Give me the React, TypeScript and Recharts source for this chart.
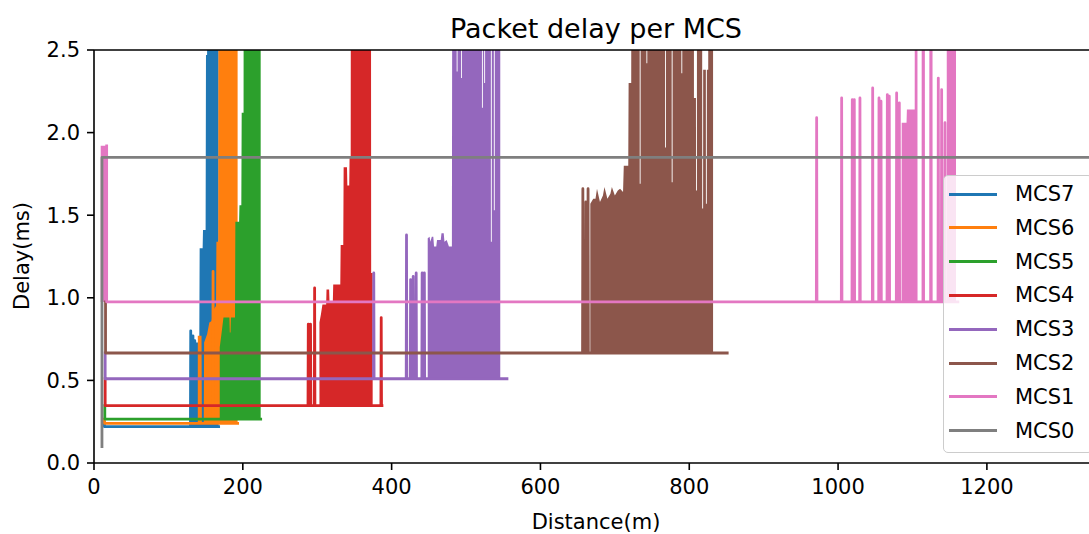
import React from 'react';
import { ComposedChart, Line, Area, XAxis, YAxis, ReferenceLine } from 'recharts';

// ---- series meta ----
const SERIES_NAMES = ['MCS7', 'MCS6', 'MCS5', 'MCS4', 'MCS3', 'MCS2', 'MCS1', 'MCS0'];
const SERIES_COLORS = ['#1f77b4', '#ff7f0e', '#2ca02c', '#d62728', '#9467bd', '#8c564b', '#e377c2', '#7f7f7f'];
// steady-state delay (ms) each MCS settles on
const BASE_DELAY = [0.22, 0.24, 0.266, 0.347, 0.51, 0.666, 0.975, 1.85];
// first sample of each trace (distance m, delay ms)
const START_DIST = [14, 14, 14.5, 15, 15, 15.5, 17, 10.7];
const START_DELAY = [0.245, 0.266, 0.347, 0.51, 0.666, 0.975, 1.92, 0.1];
// last distance of each trace
const END_DIST = [167.5, 193, 224, 387, 555, 851, 1161, 1345];

// ---- isolated delay spikes (distance m / peak ms) ----
const mcs7SpikeDist = [130, 133, 135.5];
const mcs7SpikePeak = [0.8, 0.77, 0.74];
const mcs6SpikeDist = [160];
const mcs6SpikePeak = [1.16];
const mcs5SpikeDist: number[] = [];
const mcs5SpikePeak: number[] = [];
const mcs4SpikeDist = [288, 291, 296.5, 386];
const mcs4SpikePeak = [0.84, 0.84, 1.06, 0.88];
const mcs3SpikeDist = [376, 420, 425.5, 429, 433, 441, 444];
const mcs3SpikePeak = [1.15, 1.38, 1.11, 1.13, 1.15, 1.15, 1.15];
const mcs2SpikeDist = [657, 661, 664];
const mcs2SpikePeak = [1.66, 1.58, 1.66];
const mcs1SpikeDist = [971.2, 1004.8, 1019.1, 1021.8, 1029.4, 1046.5, 1055, 1057.7, 1066.2, 1068.8, 1078.7, 1082.3, 1114.5, 1124.8, 1134.7, 1139.2, 1143.7];
const mcs1SpikePeak = [2.09, 2.21, 2.2, 2.2, 2.21, 2.27, 2.21, 2.19, 2.23, 2.22, 2.24, 2.18, 5, 5, 2.33, 2.26, 2.06];
const mcs0SpikeDist: number[] = [];
const mcs0SpikePeak: number[] = [];

// ---- dense oscillation regions: upper envelope (distance m / delay ms) ----
const mcs7BandDist = [129, 131.5, 132, 141.5, 142, 146, 146.5, 150, 150.5, 152, 152.5, 167.5];
const mcs7BandTop = [0.79, 0.79, 0.73, 0.73, 1.3, 1.3, 1.41, 1.41, 2.47, 2.47, 5, 5];
const mcs6BandDist = [139.5, 144.5, 145, 147.5, 148, 152, 155, 158, 161, 164, 164.5, 167, 167.5, 193];
const mcs6BandTop = [0.77, 0.77, 0.24, 0.24, 0.73, 0.78, 0.85, 0.86, 0.93, 0.95, 1.34, 1.34, 5, 5];
const mcs5BandDist = [169, 171, 174, 182, 182.5, 183.5, 184, 189.5, 190, 195, 195.5, 198, 198.5, 201, 201.5, 224];
const mcs5BandTop = [0.7, 0.77, 0.88, 0.88, 0.79, 0.79, 0.88, 0.88, 1.46, 1.46, 1.56, 1.56, 2.12, 2.12, 5, 5];
const mcs4BandDist = [303, 305, 307, 312, 312.5, 316, 316.5, 321, 321.5, 331, 331.5, 335, 335.5, 340, 340.5, 343, 343.5, 345, 345.5, 372, 372.5, 374.5];
const mcs4BandTop = [0.85, 0.9, 0.96, 0.96, 1.05, 1.05, 0.98, 0.98, 1.08, 1.08, 1.32, 1.32, 1.79, 1.79, 1.68, 1.68, 1.85, 1.85, 5, 5, 1.15, 1.15];
const mcs3BandDist = [448.5, 451, 452, 454, 456, 457, 460, 461, 466, 467, 470, 471, 474, 477, 481, 482,
  487.3, 487.4, 488.6, 488.7, 493.3, 493.4, 494.6, 494.7, 521.3, 521.4, 522.6, 522.7,
  524.3, 524.4, 525.6, 525.7, 533.3, 533.4, 534.6, 534.7, 537.3, 537.4, 538.6, 538.7, 546];
const mcs3BandTop = [1.36, 1.37, 1.34, 1.37, 1.37, 1.31, 1.31, 1.35, 1.35, 1.39, 1.39, 1.34, 1.35, 1.31, 1.31, 5,
  5, 2.37, 2.37, 5, 5, 2.33, 2.33, 5, 5, 2.15, 2.15, 5,
  5, 2.3, 2.3, 5, 5, 1.34, 1.34, 5, 5, 1.53, 1.53, 5, 5];
const mcs2BandDist = [667, 671, 674, 676, 680, 684, 686, 690, 694, 696, 700, 704, 707, 711, 712, 718, 718.5, 722, 722.5,
  733.3, 733.4, 734.6, 734.7, 742.3, 742.4, 743.6, 743.7, 767.3, 767.4, 768.6, 768.7, 776.3, 776.4, 777.6, 777.7,
  789.3, 789.4, 790.6, 790.7, 806, 806.3, 809, 809.1, 810.3, 810.4, 817.3, 817.4, 818.6, 818.7, 822.3, 822.4, 823.6, 823.7,
  825.5, 825.6, 832];
const mcs2BandTop = [1.57, 1.6, 1.6, 1.66, 1.58, 1.62, 1.67, 1.6, 1.63, 1.67, 1.62, 1.65, 1.66, 1.64, 1.8, 1.8, 2.3, 2.3, 5,
  5, 1.69, 1.69, 5, 5, 2.42, 2.42, 5, 5, 1.91, 1.91, 5, 5, 1.7, 1.7, 5,
  5, 2.36, 2.36, 5, 5, 2.21, 2.21, 1.65, 1.65, 5, 5, 1.54, 1.54, 2.38, 2.38, 1.57, 1.57, 2.38,
  2.38, 5, 5];
const mcs1BandDist = [9, 17, 17.3, 1085.3, 1085.5, 1092, 1092.5, 1103, 1103.3, 1106.5, 1106.8, 1146, 1146.2, 1158.5];
const mcs1BandTop = [1.92, 1.92, 0.975, 0.975, 2.06, 2.06, 2.14, 2.14, 5, 5, 0.975, 0.975, 5, 5];
const mcs0BandDist: number[] = [];
const mcs0BandTop: number[] = [];

const SPIKE_DIST = [mcs7SpikeDist, mcs6SpikeDist, mcs5SpikeDist, mcs4SpikeDist, mcs3SpikeDist, mcs2SpikeDist, mcs1SpikeDist, mcs0SpikeDist];
const SPIKE_PEAK = [mcs7SpikePeak, mcs6SpikePeak, mcs5SpikePeak, mcs4SpikePeak, mcs3SpikePeak, mcs2SpikePeak, mcs1SpikePeak, mcs0SpikePeak];
const BAND_DIST = [mcs7BandDist, mcs6BandDist, mcs5BandDist, mcs4BandDist, mcs3BandDist, mcs2BandDist, mcs1BandDist, mcs0BandDist];
const BAND_TOP = [mcs7BandTop, mcs6BandTop, mcs5BandTop, mcs4BandTop, mcs3BandTop, mcs2BandTop, mcs1BandTop, mcs0BandTop];

const X_TICKS = [0, 200, 400, 600, 800, 1000, 1200];
const Y_TICKS = [0, 0.5, 1, 1.5, 2, 2.5];

type Pt = { d: number; v: number };
type BandPt = { d: number; range: [number, number] };

// trace: start sample, drop to steady level, spikes, steady level to the end
function traceOf(i: number): Pt[] {
  const base = BASE_DELAY[i];
  const pts: Pt[] = [
    { d: START_DIST[i], v: START_DELAY[i] },
    { d: START_DIST[i], v: base },
  ];
  SPIKE_DIST[i].forEach((d, k) => {
    pts.push({ d: d - 0.4, v: base }, { d, v: SPIKE_PEAK[i][k] }, { d: d + 0.4, v: base });
  });
  pts.push({ d: END_DIST[i], v: base });
  return pts;
}

function bandOf(i: number): BandPt[] {
  return BAND_DIST[i].map((d, k) => ({ d, range: [BASE_DELAY[i], BAND_TOP[i][k]] as [number, number] }));
}

const FONT = "'DejaVu Sans', sans-serif";
const tickStyle = { fill: '#000', fontSize: 21, fontFamily: FONT };

export default function App() {
  const elements: React.ReactNode[] = [];
  SERIES_NAMES.forEach((name, i) => {
    if (BAND_DIST[i].length) {
      elements.push(
        <Area
          key={`band-${name}`}
          data={bandOf(i)}
          dataKey="range"
          type="linear"
          stroke="none"
          fill={SERIES_COLORS[i]}
          fillOpacity={1}
          isAnimationActive={false}
          legendType="none"
          dot={false}
          activeDot={false}
        />
      );
    }
    elements.push(
      <Line
        key={`line-${name}`}
        data={traceOf(i)}
        dataKey="v"
        name={name}
        type="linear"
        stroke={SERIES_COLORS[i]}
        strokeWidth={2.8}
        strokeLinejoin="round"
        strokeLinecap="square"
        dot={false}
        activeDot={false}
        isAnimationActive={false}
      />
    );
  });

  return (
    <div style={{ position: 'absolute', left: 0, top: 0, width: 1089, height: 534, overflow: 'hidden', background: '#fff', fontFamily: FONT }}>
      <ComposedChart width={1120} height={534} margin={{ top: 50, right: 21.5, bottom: 21, left: 34 }}>
        <XAxis
          type="number"
          dataKey="d"
          domain={[0, 1350]}
          allowDataOverflow
          ticks={X_TICKS}
          tick={tickStyle}
          tickSize={7}
          tickMargin={9}
          height={50}
          axisLine={{ stroke: '#000', strokeWidth: 1.6 }}
          tickLine={{ stroke: '#000', strokeWidth: 1.6 }}
        />
        <YAxis
          type="number"
          domain={[0, 2.5]}
          allowDataOverflow
          ticks={Y_TICKS}
          tickFormatter={(v: number) => v.toFixed(1)}
          tick={tickStyle}
          tickSize={7}
          tickMargin={7}
          width={60}
          axisLine={{ stroke: '#000', strokeWidth: 1.6 }}
          tickLine={{ stroke: '#000', strokeWidth: 1.6 }}
        />
        {elements}
        <ReferenceLine y={2.5} stroke="#000" strokeWidth={1.6} ifOverflow="visible" />
        <ReferenceLine x={1350} stroke="#000" strokeWidth={1.6} ifOverflow="visible" />
      </ComposedChart>

      <div style={{ position: 'absolute', left: 0, width: 1192, top: 13.5, height: 30, lineHeight: '30px', textAlign: 'center', fontSize: 27, color: '#000' }}>
        Packet delay per MCS
      </div>
      <div style={{ position: 'absolute', left: 0, width: 1192, top: 510, height: 24, lineHeight: '24px', textAlign: 'center', fontSize: 21, color: '#000' }}>
        Distance(m)
      </div>
      <div style={{ position: 'absolute', left: 22 - 100, top: 256 - 12, width: 200, height: 24, lineHeight: '24px', textAlign: 'center', fontSize: 21, color: '#000', transform: 'rotate(-90deg)' }}>
        Delay(ms)
      </div>

      <div style={{ position: 'absolute', left: 943, top: 175, width: 150, height: 278, boxSizing: 'border-box', border: '1.5px solid #cccccc', borderRadius: 5, background: 'rgba(255,255,255,0.8)' }}>
        {SERIES_NAMES.map((name, i) => (
          <div key={name} style={{ position: 'absolute', left: 0, top: 18 - 12 + i * 33.8, height: 24, width: 150, display: 'flex', alignItems: 'center' }}>
            <div style={{ position: 'absolute', left: 5, top: 10.5, width: 48, height: 3, background: SERIES_COLORS[i] }} />
            <span style={{ position: 'absolute', left: 71, top: 0, lineHeight: '24px', fontSize: 21, color: '#000' }}>{name}</span>
          </div>
        ))}
      </div>
    </div>
  );
}
